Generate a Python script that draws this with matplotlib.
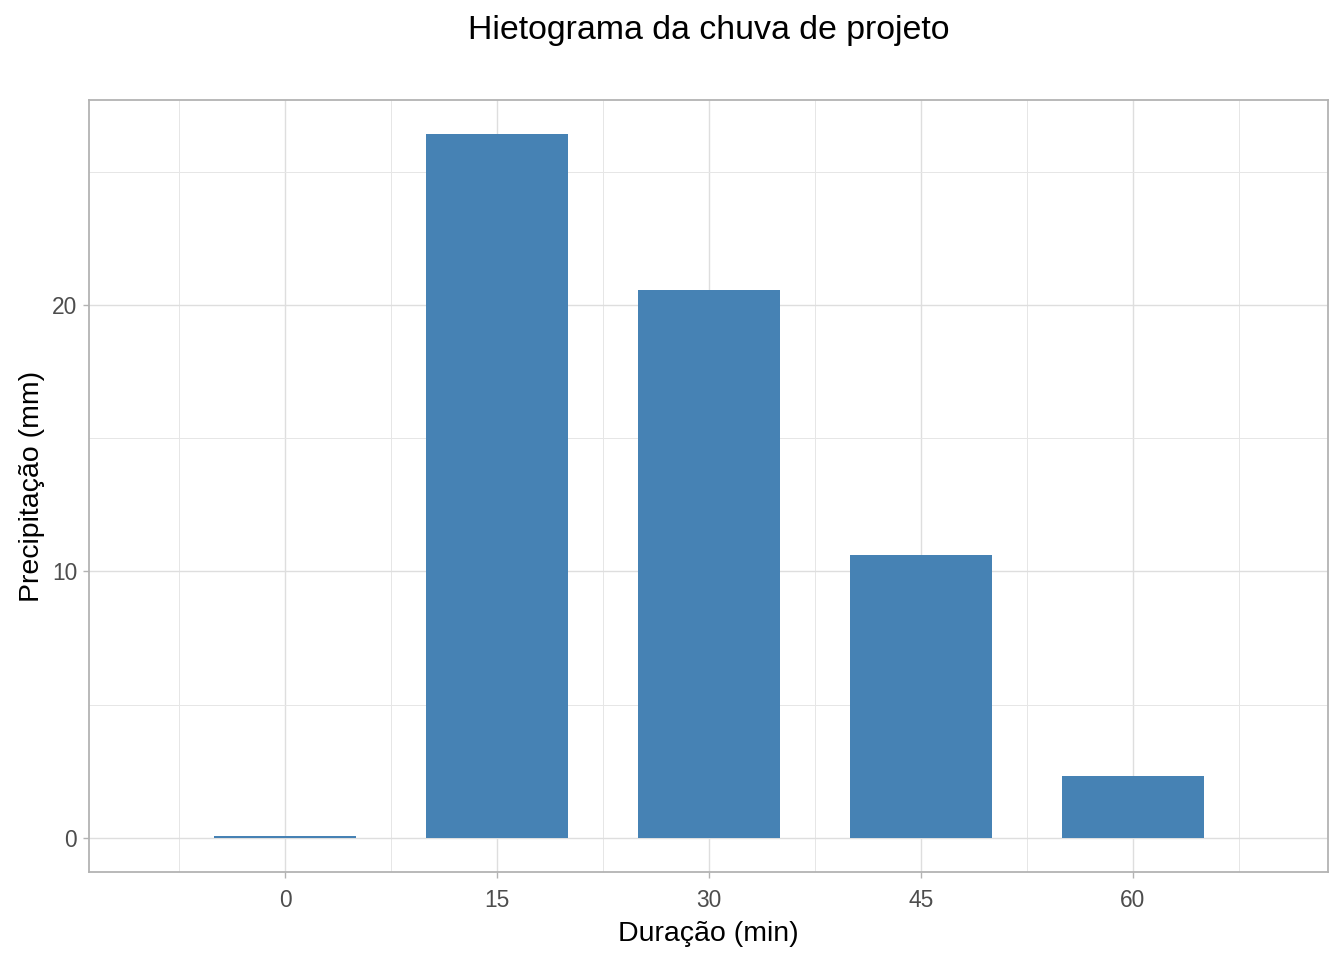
import matplotlib
matplotlib.use("Agg")
import matplotlib.pyplot as plt
from matplotlib.ticker import MultipleLocator

# data
duracao = [0, 15, 30, 45, 60]
precipitacao = [0.08, 26.42, 20.56, 10.62, 2.33]
bar_width = 10

plt.rcParams['font.family'] = ['Liberation Sans', 'DejaVu Sans']

fig = plt.figure(figsize=(13.44, 9.6), dpi=100)
ax = fig.add_axes([89 / 1344, 1 - 872 / 960, (1328 - 89) / 1344, (872 - 100) / 960])

ax.bar(duracao, precipitacao, width=bar_width, color='#4682B4', zorder=3)

ax.set_xlim(-13.87, 73.8)
ax.set_ylim(-1.28, 27.69)

ax.set_xticks(duracao)
ax.yaxis.set_major_locator(MultipleLocator(10))
ax.xaxis.set_minor_locator(MultipleLocator(15, offset=7.5))
ax.yaxis.set_minor_locator(MultipleLocator(5))

ax.grid(which='major', color='#DEDEDE', linewidth=1.0, zorder=0)
ax.grid(which='minor', color='#E6E6E6', linewidth=0.7, zorder=0)
ax.set_axisbelow(True)

for s in ax.spines.values():
    s.set_color('#B3B3B3')
    s.set_linewidth(1.3)

ax.tick_params(which='major', length=4.5, width=1, color='#B3B3B3', labelcolor='#4D4D4D',
               labelsize=16.4, pad=4)
ax.tick_params(axis='x', which='major', pad=8)
ax.tick_params(which='minor', length=0)

ax.set_xlabel('Duração (min)', fontsize=20.5, labelpad=6)
ax.set_ylabel('Precipitação (mm)', fontsize=20.5, labelpad=5)
ax.set_title('Hietograma da chuva de projeto', fontsize=24.4, pad=44)

fig.savefig('out.png', dpi=100)
